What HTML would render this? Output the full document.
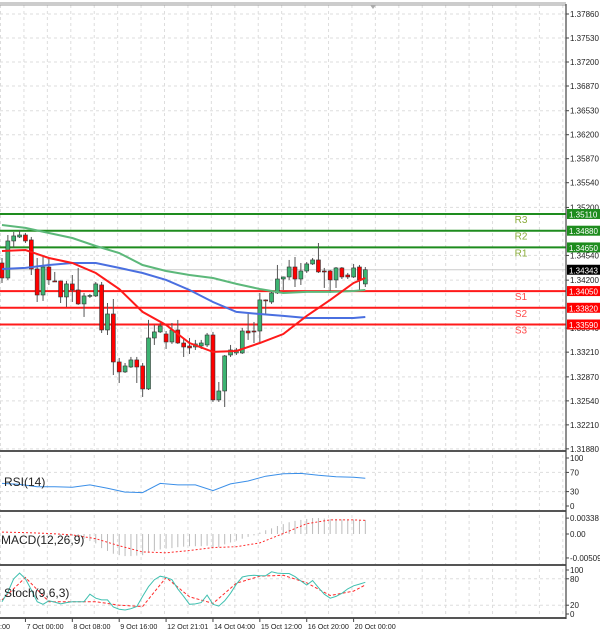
<!DOCTYPE html>
<html><head><meta charset="utf-8"><style>
html,body{margin:0;padding:0;background:#fff;}
svg{display:block;font-family:"Liberation Sans",sans-serif;}
</style></head><body>
<svg id="chart" width="600" height="635" viewBox="0 0 600 635" xmlns="http://www.w3.org/2000/svg">
<rect x="0" y="0" width="600" height="635" fill="#fff"/>
<g id="grid"></g>
<g id="levels"></g>
<g id="candles"></g>
<g id="mas"></g>
<g id="ind"></g>
<g id="axes"></g>
</svg>
<script>
const priceTicks=[1.37860,1.37530,1.37200,1.36870,1.36530,1.36200,1.35870,1.35540,1.35200,1.34540,1.34200,1.33540,1.33210,1.32870,1.32540,1.32210,1.31880];
const opens=[1.34436,1.34230,1.34739,1.34794,1.34821,1.34753,1.34354,1.33996,1.34381,1.34189,1.34189,1.33969,1.34148,1.34065,1.33873,1.33983,1.33983,1.34134,1.33515,1.33735,1.33075,1.32938,1.33006,1.33103,1.33020,1.32704,1.33405,1.33488,1.33460,1.33350,1.33515,1.33336,1.33295,1.33281,1.33295,1.33309,1.33446,1.32553,1.32676,1.33171,1.33199,1.33199,1.33501,1.33501,1.33501,1.33928,1.33900,1.34024,1.34216,1.34244,1.34381,1.34216,1.34326,1.34423,1.34478,1.34326,1.34326,1.34203,1.34368,1.34271,1.34244,1.34381,1.34148];
const highs=[1.34505,1.34821,1.34863,1.34890,1.34849,1.34794,1.34505,1.34519,1.34505,1.34313,1.34195,1.34189,1.34271,1.34368,1.34024,1.34010,1.34175,1.34175,1.33886,1.33941,1.33130,1.33061,1.33144,1.33144,1.33061,1.33653,1.33584,1.33611,1.33501,1.33611,1.33653,1.33405,1.33405,1.33378,1.33378,1.33474,1.33488,1.32800,1.33171,1.33309,1.33268,1.33543,1.33735,1.33625,1.34024,1.33935,1.34065,1.34409,1.34250,1.34478,1.34519,1.34436,1.34450,1.34505,1.34711,1.34368,1.34340,1.34381,1.34381,1.34299,1.34423,1.34409,1.34381];
const lows=[1.34161,1.34203,1.34643,1.34780,1.34711,1.34271,1.33900,1.33914,1.34134,1.34175,1.33886,1.33831,1.33900,1.33859,1.33694,1.33955,1.33969,1.33474,1.33446,1.32896,1.32786,1.32924,1.32993,1.32786,1.32594,1.32690,1.33309,1.33474,1.33254,1.33323,1.33323,1.33144,1.33185,1.33240,1.33254,1.33281,1.32525,1.32525,1.32456,1.33144,1.33171,1.33185,1.33378,1.33336,1.33336,1.33721,1.33873,1.34010,1.34065,1.34203,1.34106,1.34134,1.34299,1.34409,1.34299,1.34093,1.34024,1.34093,1.34216,1.34216,1.34230,1.34065,1.34106];
const closes=[1.34230,1.34739,1.34808,1.34821,1.34739,1.34354,1.33996,1.34381,1.34203,1.34185,1.33969,1.34148,1.34065,1.33873,1.33983,1.33990,1.34148,1.33515,1.33735,1.33075,1.32938,1.33020,1.33103,1.33006,1.32704,1.33405,1.33488,1.33570,1.33350,1.33515,1.33336,1.33281,1.33268,1.33323,1.33336,1.33446,1.32553,1.32676,1.33158,1.33240,1.33240,1.33501,1.33474,1.33488,1.33928,1.33921,1.34024,1.34216,1.34244,1.34381,1.34216,1.34326,1.34423,1.34478,1.34313,1.34320,1.34203,1.34368,1.34244,1.34244,1.34368,1.34203,1.34343];
const maIdx=[0,4,8,12,16,20,24,28,32,36,40,44,48,52,56,60,62];
const maFast=[1.34601,1.34615,1.34505,1.34436,1.34299,1.34079,1.33763,1.33584,1.33336,1.33213,1.33226,1.33336,1.33460,1.33708,1.33928,1.34161,1.34230];
const maMid=[1.34354,1.34368,1.34409,1.34436,1.34436,1.34368,1.34299,1.34203,1.34065,1.33900,1.33763,1.33735,1.33708,1.33680,1.33680,1.33680,1.33694];
const maSlow=[1.34959,1.34918,1.34849,1.34780,1.34670,1.34574,1.34409,1.34326,1.34271,1.34230,1.34148,1.34079,1.34024,1.34038,1.34038,1.34051,1.34065];
const levelNames=["R3","R2","R1","S1","S2","S3"];
const levelValues=[1.35110,1.34880,1.34650,1.34050,1.33820,1.33590];
const lastPrice=1.34343;
const rsiIdx=[0,3,6,9,12,15,18,21,24,27,30,33,36,39,42,45,48,51,54,57,60,62];
const rsiValues=[47,45,40,40,39,44,37,29,28,47,44,44,32,46,52,62,67,68,64,61,60,58];
const rsiTicks=[100,70,30,0];
const macdHist=[0,0,0,0,0,0,0,0,-0.0001,-0.0001,-0.0002,-0.0003,-0.0004,-0.0005,-0.0010,-0.0015,-0.0020,-0.0030,-0.0036,-0.0042,-0.0045,-0.0047,-0.0047,-0.0046,-0.0045,-0.0040,-0.0036,-0.0033,-0.0031,-0.0030,-0.0028,-0.0027,-0.0026,-0.0026,-0.0026,-0.0025,-0.0030,-0.0028,-0.0022,-0.0018,-0.0014,-0.0010,-0.0006,-0.0003,0.0003,0.0008,0.0012,0.0017,0.0021,0.0025,0.0028,0.0030,0.0032,0.0034,0.0034,0.0033,0.0032,0.0032,0.0031,0.0031,0.0031,0.0030,0.0030];
const macdSigIdx=[0,4,8,12,16,20,24,28,32,36,40,44,48,52,56,60,62];
const macdSignal=[0.0004,0.0003,0.0001,-0.0002,-0.0010,-0.0025,-0.0038,-0.0040,-0.0035,-0.0029,-0.0027,-0.0019,0.0001,0.0022,0.0030,0.0030,0.0029];
const macdTicks=["0.00338","0.00","-0.005097"];
const macdTickVals=[0.00338,0,-0.005097];
const stochMain=[28,50,80,93,80,55,28,22,30,27,23,26,28,28,28,45,36,32,32,16,11,9,12,17,40,62,78,86,83,78,57,40,22,23,26,43,22,18,30,47,68,84,87,88,87,87,96,93,92,92,85,75,66,76,60,45,36,40,47,57,64,68,72];
const stochSigIdx=[0,4,8,12,16,20,24,28,32,36,40,44,48,52,56,60,62];
const stochSignal=[32,83,28,28,28,20,17,83,39,24,70,86,88,71,42,52,66];
const stochTicks=[100,80,20,0];
const timeLabels=["0:00","7 Oct 00:00","8 Oct 08:00","9 Oct 16:00","12 Oct 21:01","14 Oct 04:00","15 Oct 12:00","16 Oct 20:00","20 Oct 00:00"];
const timeLabelIdx=[-4,4,12,20,28,36,44,52,60];

const NS="http://www.w3.org/2000/svg";
const AX=566;
function mk(parent,tag,attrs){const e=document.createElementNS(NS,tag);for(const k in attrs)e.setAttribute(k,attrs[k]);parent.appendChild(e);return e;}
const xOf=i=>2+i*5.86;
const yP=p=>14+(1.3786-p)*7272;
const yR=v=>506-v*0.48;
const yM=v=>534-v*4700;
const yS=v=>614-v*0.44;
const G=id=>document.getElementById(id);

const grid=G('grid');
for(let x=0.5;x<AX;x+=23.43){const l=mk(grid,'line',{x1:x,x2:x,y1:5,y2:617,stroke:'#ddd','stroke-dasharray':'3,3','stroke-width':1});

}
priceTicks.forEach(p=>{const l=mk(grid,'line',{x1:0,x2:AX,y1:yP(p),y2:yP(p),stroke:'#ddd','stroke-dasharray':'3,3'});

});
[70,30].forEach(v=>{const l=mk(grid,'line',{x1:0,x2:AX,y1:yR(v),y2:yR(v),stroke:'#ddd','stroke-dasharray':'3,3'});

});
[80,20].forEach(v=>{const l=mk(grid,'line',{x1:0,x2:AX,y1:yS(v),y2:yS(v),stroke:'#ddd','stroke-dasharray':'3,3'});

});

const lv=G('levels');
const lp=mk(lv,'line',{x1:0,x2:AX,y1:yP(lastPrice),y2:yP(lastPrice),stroke:'#ccc','stroke-width':1});


levelValues.forEach((v,i)=>{const isR=levelNames[i][0]==='R';const y=yP(v);
const l=mk(lv,'line',{x1:0,x2:AX,y1:y,y2:y,stroke:isR?'#1e8c1e':'#ff1a1a','stroke-width':2});


const t=mk(lv,'text',{x:521,y:y+9,'font-size':10,fill:isR?'#8aac3a':'#ff4d4d','text-anchor':'middle'});t.textContent=levelNames[i];

});

const cg=G('candles');
opens.forEach((o,i)=>{const c=closes[i],x=xOf(i);const up=c>=o;
const w=mk(cg,'line',{x1:x,x2:x,y1:yP(highs[i]),y2:yP(lows[i]),stroke:'#555','stroke-width':1});


const top=yP(Math.max(o,c)),bot=yP(Math.min(o,c));
const b=mk(cg,'rect',{x:x-2,y:top,width:4,height:Math.max(1,bot-top),fill:up?'#3cb371':'#ff0000',stroke:'#333','stroke-width':0.6});

});

const mg=G('mas');
function poly(parent,idx,vals,yf,attrs,name){const pts=vals.map((v,k)=>xOf(idx[k]).toFixed(1)+','+yf(v).toFixed(1)).join(' ');
const p=mk(parent,'polyline',Object.assign({points:pts,fill:'none'},attrs));

return p;}
poly(mg,maIdx,maSlow,yP,{stroke:'#5cb87a','stroke-width':2},'ma-slow-line');
poly(mg,maIdx,maMid,yP,{stroke:'#4a6fe0','stroke-width':2},'ma-mid-line');
poly(mg,maIdx,maFast,yP,{stroke:'#ff1a1a','stroke-width':2},'ma-fast-line');

const ig=G('ind');
poly(ig,rsiIdx,rsiValues,yR,{stroke:'#3b8fe8','stroke-width':1},'rsi-line');
macdHist.forEach((v,i)=>{const x=xOf(i);const l=mk(ig,'line',{x1:x,x2:x,y1:yM(0),y2:yM(v),stroke:'#bbb','stroke-width':1});

});
poly(ig,macdSigIdx,macdSignal,yM,{stroke:'#ff2a2a','stroke-width':1,'stroke-dasharray':'2,2'},'macd-signal-line');
poly(ig,stochSigIdx,stochSignal,yS,{stroke:'#ff2a2a','stroke-width':1,'stroke-dasharray':'3,2'},'stoch-signal-line');
poly(ig,stochMain.map((_,i)=>i),stochMain,yS,{stroke:'#40c0b0','stroke-width':1},'stoch-main-line');
[["RSI(14)",486,'rsi-title'],["MACD(12,26,9)",544,'macd-title'],["Stoch(9,6,3)",597,'stoch-title']].forEach(a=>{
const t=mk(ig,'text',{x:a[0]==="MACD(12,26,9)"?1:4,y:a[1],'font-size':12,fill:'#222'});t.textContent=a[0];

});

const ag=G('axes');
[[3,'#999',1],[5,'#999',1],[451,'#555',2],[511,'#555',2],[565,'#555',2],[618,'#555',2]].forEach(b=>{
const l=mk(ag,'line',{x1:0,x2:AX,y1:b[0],y2:b[0],stroke:b[1],'stroke-width':b[2]});

});
const al=mk(ag,'line',{x1:AX,x2:AX,y1:4,y2:619,stroke:'#444','stroke-width':1.2});


const mkr=mk(ag,'path',{d:'M370,5 L376,5 L373,9 Z',fill:'#aaa'});


function tick(y,label,name,size){const l=mk(ag,'line',{x1:AX,x2:AX+3,y1:y,y2:y,stroke:'#444'});


const t=mk(ag,'text',{x:AX+4,y:y+3,'font-size':size||8,fill:'#222'});t.textContent=label;

}
priceTicks.forEach(p=>tick(yP(p),p.toFixed(5),'price-tick-label'));
rsiTicks.forEach(v=>tick(yR(v),String(v),'rsi-tick-label'));
macdTickVals.forEach((v,k)=>tick(yM(v),macdTicks[k],'macd-tick-label'));
stochTicks.forEach(v=>tick(yS(v),String(v),'stoch-tick-label'));
function tag(p,bg,name){const y=yP(p);const r=mk(ag,'rect',{x:AX+1,y:y-5,width:33,height:10,fill:bg});


const t=mk(ag,'text',{x:AX+3,y:y+3.5,'font-size':8,fill:'#fff'});t.textContent=p.toFixed(5);

}
levelValues.forEach((v,i)=>tag(v,levelNames[i][0]==='R'?'#1e8c1e':'#ff0000','level-price-tag'));
tag(lastPrice,'#000','last-price-tag');
timeLabels.forEach((s,k)=>{const x=xOf(timeLabelIdx[k]);
const l=mk(ag,'line',{x1:x,x2:x,y1:618,y2:622,stroke:'#444'});


const t=mk(ag,'text',{x:k===0?-4:x+1,y:629,'font-size':7.2,fill:'#222'});t.textContent=s;

});
</script>
</body></html>
